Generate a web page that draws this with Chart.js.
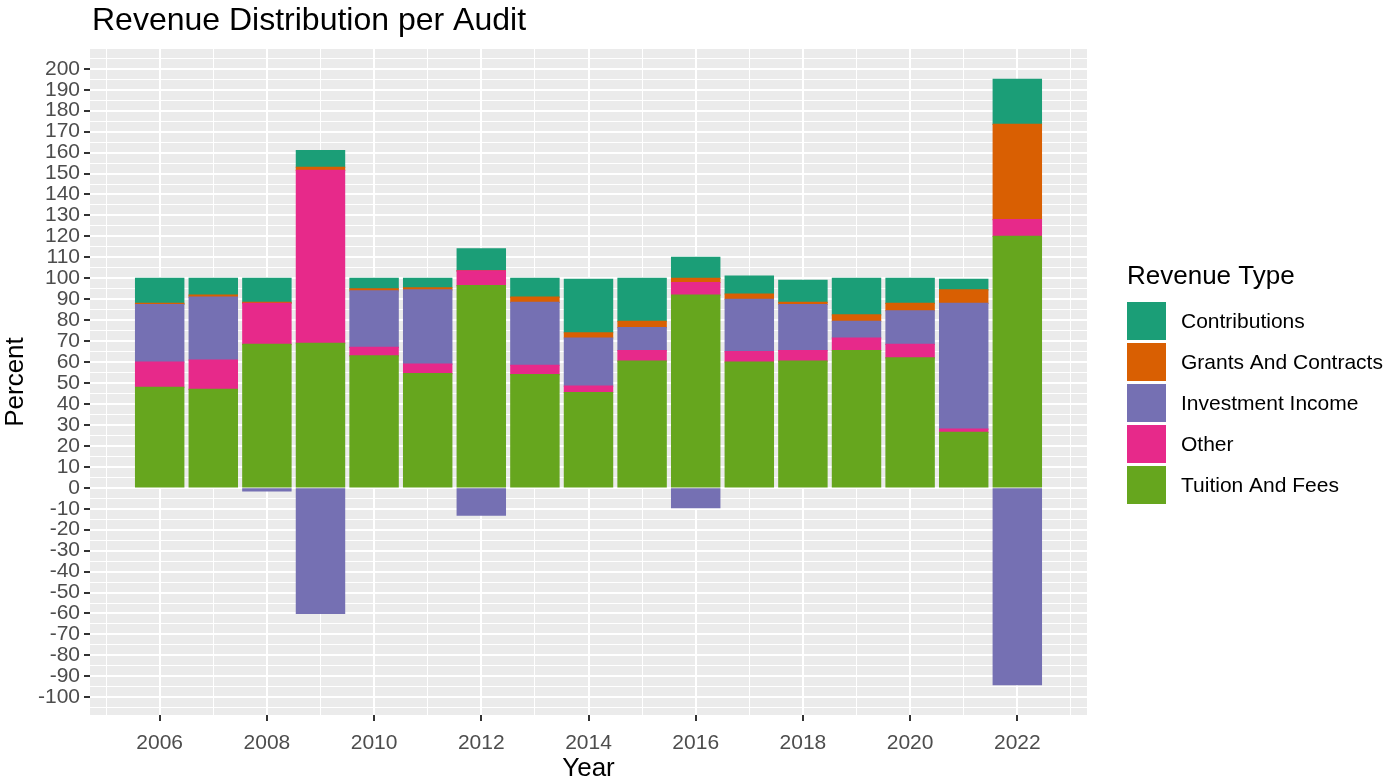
<!DOCTYPE html>
<html>
<head>
<meta charset="utf-8">
<title>Revenue Distribution per Audit</title>
<script src="https://cdn.jsdelivr.net/npm/chart.js@4.4.1/dist/chart.umd.min.js"></script>
<style>
  html, body { margin: 0; padding: 0; background: #ffffff; }
  #wrap { width: 1393px; height: 784px; position: relative; }
</style>
</head>
<body>
<div id="wrap"><canvas id="chartRevenue"></canvas></div>
<script>
// ---- data (percent of revenue per audit year) ----
const years = [2006, 2007, 2008, 2009, 2010, 2011, 2012, 2013, 2014, 2015, 2016, 2017, 2018, 2019, 2020, 2021, 2022];
const tuitionAndFees   = [48, 47, 68.5, 69, 63, 54.5, 96.5, 54, 45.5, 60.5, 92, 60, 60.5, 65.5, 62, 26.5, 120];
const other            = [12, 14, 19.5, 82.5, 4, 4.5, 7, 4.5, 3, 5, 6, 5, 5, 6, 6.5, 1.5, 8];
const investmentIncome = [27.5, 30, -1.5, -60, 27, 35.5, -13, 30, 23, 11, -9.5, 25, 22, 8, 16, 60, -94];
const grantsAndContracts = [0.5, 1, 0.5, 1.5, 1, 1, 0, 2.5, 2.5, 3, 2, 2.5, 1, 3, 3.5, 6.5, 45.5];
const contributions    = [12, 8, 11.5, 8, 5, 4.5, 10.5, 9, 25.5, 20.5, 10, 8.5, 10.5, 17.5, 12, 5, 21.5];

// tick values
const xTicks = [2005, 2006, 2007, 2008, 2009, 2010, 2011, 2012, 2013, 2014, 2015, 2016, 2017, 2018, 2019, 2020, 2021, 2022, 2023];
const yTicks = [];
for (let v = -105; v <= 205; v += 5) yTicks.push(v);

const FONT = "'Liberation Sans', Arial, sans-serif";
const TICK_GREY = '#4D4D4D';

// stacking order bottom -> top (legend shows it reversed)
const series = [
    { label: 'Tuition And Fees', data: tuitionAndFees, color: '#66A61E' },
    { label: 'Other', data: other, color: '#E7298A' },
    { label: 'Investment Income', data: investmentIncome, color: '#7570B3' },
    { label: 'Grants And Contracts', data: grantsAndContracts, color: '#D95F02' },
    { label: 'Contributions', data: contributions, color: '#1B9E77' }
];

// panel background, title and legend
const decor = {
    id: 'decor',
    beforeDraw(chart) {
        const { ctx, chartArea: a } = chart;
        ctx.save();
        ctx.fillStyle = '#EBEBEB';
        ctx.fillRect(a.left, a.top, a.right - a.left, a.bottom - a.top);
        ctx.restore();
    },
    afterDraw(chart) {
        const { ctx } = chart;
        ctx.save();
        ctx.fillStyle = '#000000';
        ctx.textBaseline = 'middle';
        ctx.textAlign = 'left';
        ctx.font = '32px ' + FONT;
        ctx.fillText('Revenue Distribution per Audit', 92, 21);

        ctx.font = '26px ' + FONT;
        ctx.fillText('Revenue Type', 1127, 277);

        ctx.font = '21px ' + FONT;
        const items = chart.data.datasets.slice().reverse();
        items.forEach((ds, i) => {
            const top = 302 + i * 41;
            ctx.fillStyle = ds.backgroundColor;
            ctx.fillRect(1127, top, 39, 38);
            ctx.fillStyle = '#000000';
            ctx.fillText(ds.label, 1181, top + 20);
        });
        ctx.restore();
    }
};

const ctxRevenue = document.getElementById('chartRevenue');
new Chart(ctxRevenue, {
    type: 'bar',
    data: {
        labels: years,
        datasets: series.map(s => ({
            label: s.label,
            data: s.data,
            backgroundColor: s.color,
            borderWidth: 0,
            inflateAmount: 0.6,
            barPercentage: 0.9,
            categoryPercentage: 1.0
        }))
    },
    options: {
        responsive: true,
        maintainAspectRatio: false,
        devicePixelRatio: 1,
        animation: false,
        layout: { padding: { left: 0, top: 49, right: 306, bottom: 0 } },
        plugins: {
            legend: { display: false },
            title: { display: false },
            tooltip: { enabled: false }
        },
        scales: {
            x: {
                type: 'linear',
                stacked: true,
                offset: false,
                min: 2004.7,
                max: 2023.3,
                afterBuildTicks: (scale) => { scale.ticks = xTicks.map(v => ({ value: v })); },
                afterFit: (scale) => { scale.height = 69; },
                border: { display: false },
                grid: {
                    offset: false,
                    color: '#FFFFFF',
                    lineWidth: (c) => (c.tick && c.tick.value % 2 === 0) ? 2 : 1,
                    tickColor: (c) => (c.tick && c.tick.value % 2 === 0) ? '#333333' : 'rgba(0,0,0,0)',
                    tickWidth: 2,
                    tickLength: 6
                },
                ticks: {
                    autoSkip: false,
                    maxRotation: 0,
                    padding: 10,
                    color: TICK_GREY,
                    font: { family: FONT, size: 21 },
                    callback: (v) => v % 2 === 0 ? String(v) : ''
                },
                title: {
                    display: true,
                    text: 'Year',
                    color: '#000000',
                    font: { family: FONT, size: 26 },
                    padding: { top: 0, bottom: 0 }
                }
            },
            y: {
                stacked: true,
                min: -108.45,
                max: 209.45,
                afterBuildTicks: (scale) => { scale.ticks = yTicks.map(v => ({ value: v })); },
                afterFit: (scale) => { scale.width = 90; },
                border: { display: false },
                grid: {
                    color: '#FFFFFF',
                    lineWidth: (c) => (c.tick && c.tick.value % 10 === 0) ? 2 : 1,
                    tickColor: (c) => (c.tick && c.tick.value % 10 === 0) ? '#333333' : 'rgba(0,0,0,0)',
                    tickWidth: 2,
                    tickLength: 6
                },
                ticks: {
                    autoSkip: false,
                    padding: 4,
                    color: TICK_GREY,
                    font: { family: FONT, size: 21 },
                    callback: (v) => v % 10 === 0 ? String(v) : ''
                },
                title: {
                    display: true,
                    text: 'Percent',
                    color: '#000000',
                    font: { family: FONT, size: 26 },
                    padding: { top: 0, bottom: 0 }
                }
            }
        }
    },
    plugins: [decor]
});
</script>
</body>
</html>
